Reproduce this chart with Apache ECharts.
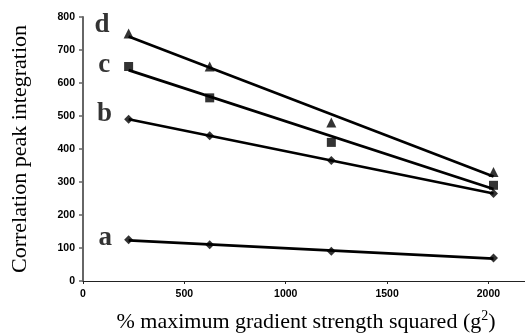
<!DOCTYPE html>
<html><head><meta charset="utf-8">
<script src="https://cdn.jsdelivr.net/npm/echarts@6/dist/echarts.min.js"></script>
<style>html,body{margin:0;padding:0;background:#fff}#c{width:525px;height:334px}</style>
</head><body><div id="c"></div>
<script>
// Data
const xValues = [225, 625, 1225, 2025];
const seriesA = [125, 110, 90, 70];
const seriesB = [490, 440, 365, 265];
const seriesC = [650, 555, 420, 290];
const seriesD = [750, 650, 480, 330];
// Trend lines (fitted lines) endpoints
const trendX = [225, 2025];
const trendA = [123, 68];
const trendB = [490, 265];
const trendC = [639, 279];
const trendD = [741, 317];
const seriesNames = ['a', 'b', 'c', 'd'];
const yTicks = [0, 100, 200, 300, 400, 500, 600, 700, 800];
const xTicks = [0, 500, 1000, 1500, 2000];

const pts = (ys) => xValues.map((x, i) => [x, ys[i]]);
const tr = (ys) => trendX.map((x, i) => [x, ys[i]]);

const chart = echarts.init(document.getElementById('c'));
const labelStyle = {fontFamily: 'Liberation Serif', fontWeight: 'bold', fontSize: 27, color: '#000'};

function scatter(name, data, symbol, size, lblOffset) {
  return {
    type: 'scatter', name: name, data: data.map((d, i) => i === 0 ? {
      value: d,
      label: Object.assign({show: true, formatter: name, position: 'left', distance: 12, offset: lblOffset}, labelStyle)
    } : d),
    symbol: symbol, symbolSize: size, itemStyle: {color: '#000'}, z: 5
  };
}
function line(data) {
  return {type: 'line', data: data, symbol: 'none', lineStyle: {color: '#000', width: 2.7}, silent: true, z: 3};
}

chart.setOption({
  animation: false,
  grid: {left: 83, top: 17, width: 446, bottom: 53, containLabel: false, outerBoundsMode: 'none'},
  xAxis: {
    type: 'value', min: 0, max: 2200, interval: 500,
    axisLine: {lineStyle: {color: '#222', width: 1.2}},
    axisTick: {show: true, length: 3, lineStyle: {color: '#222'}},
    splitLine: {show: false},
    axisLabel: {showMaxLabel: false, color: '#000', fontFamily: 'Liberation Sans', fontWeight: 'bold', fontSize: 10.5, margin: 8,
      formatter: v => xTicks.includes(v) ? String(v) : ''},
    name: '{t|% maximum gradient strength squared (g}{s|2}{t|)}',
    nameLocation: 'middle', nameGap: 28,
    nameTextStyle: {rich: {
      t: {fontFamily: 'Liberation Serif', fontSize: 22, color: '#000'},
      s: {fontFamily: 'Liberation Serif', fontSize: 14, color: '#000', verticalAlign: 'top', padding: [0, 0, 12, 0]}
    }}
  },
  yAxis: {
    type: 'value', min: 0, max: 800, interval: 100,
    axisLine: {show: true, lineStyle: {color: '#666', width: 2}},
    axisTick: {show: true, length: 4, lineStyle: {color: '#666', width: 1.5}},
    splitLine: {show: false},
    axisLabel: {color: '#000', fontFamily: 'Liberation Sans', fontWeight: 'bold', fontSize: 10.5, margin: 8,
      formatter: v => yTicks.includes(v) ? String(v) : ''},
    name: 'Correlation peak integration', nameLocation: 'middle', nameGap: 52,
    nameTextStyle: {fontFamily: 'Liberation Serif', fontSize: 22, color: '#000'}
  },
  series: [
    line(tr(trendA)), line(tr(trendB)), line(tr(trendC)), line(tr(trendD)),
    scatter(seriesNames[0], pts(seriesA), 'diamond', 9, [0, -2]),
    scatter(seriesNames[1], pts(seriesB), 'diamond', 9, [0, -5]),
    scatter(seriesNames[2], pts(seriesC), 'rect', 9, [-2, -1]),
    scatter(seriesNames[3], pts(seriesD), 'triangle', 10, [-2, -8])
  ]
});
</script></body></html>
